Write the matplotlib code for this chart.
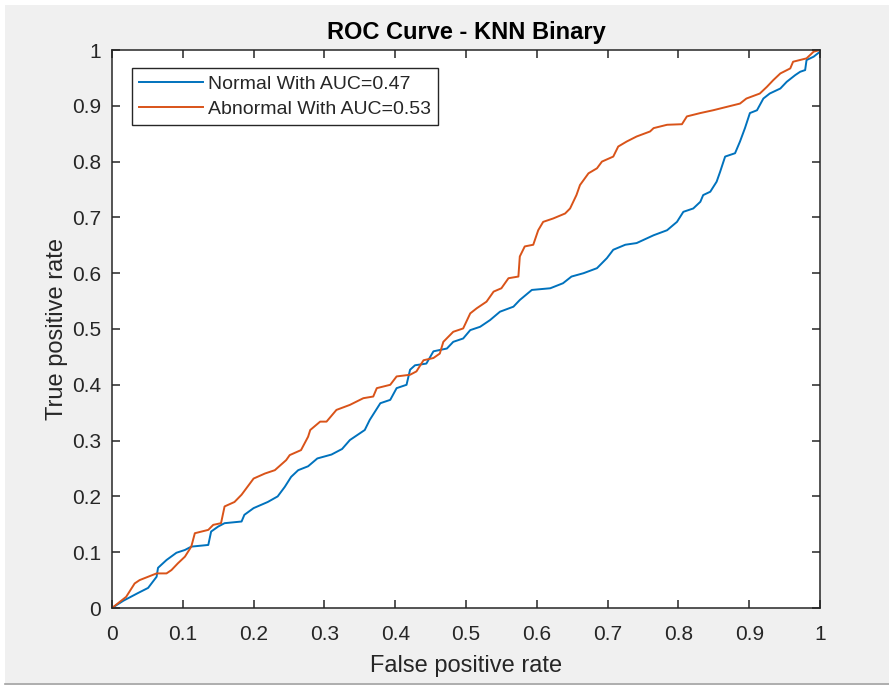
import matplotlib
matplotlib.use("Agg")
import matplotlib.pyplot as plt
from matplotlib.patches import Rectangle
from matplotlib.lines import Line2D

# ROC points (false positive rate, true positive rate) for each class
fpr_normal = [0, .016, .037, .051, .063, .065, .077, .091, .103, .112, .136, .14, .15, .159,
              .183, .187, .2, .22, .234, .244, .253, .263, .277, .29, .31, .325, .336, .357,
              .364, .379, .393, .402, .416, .421, .428, .444, .454, .473, .482, .496, .506,
              .52, .534, .548, .567, .576, .593, .619, .637, .649, .666, .685, .699, .708,
              .725, .741, .765, .784, .798, .807, .821, .831, .835, .845, .854, .859, .866,
              .88, .887, .894, .901, .911, .92, .929, .944, .953, .965, .972, .979, .981,
              .991, 1, 1]
tpr_normal = [0, .013, .027, .036, .056, .072, .086, .099, .104, .11, .113, .137, .146, .152,
              .155, .167, .179, .19, .2, .217, .235, .247, .254, .268, .275, .285, .301, .319,
              .337, .367, .373, .394, .4, .427, .435, .438, .46, .465, .477, .483, .498,
              .504, .516, .531, .54, .552, .57, .573, .582, .594, .6, .609, .627, .642,
              .651, .654, .668, .677, .692, .71, .716, .728, .74, .746, .764, .782, .809,
              .815, .836, .86, .887, .892, .913, .922, .931, .943, .955, .961, .964, .982,
              .988, .997, 1]

fpr_abnormal = [0, .02, .032, .039, .051, .063, .077, .084, .093, .103, .112, .117, .136, .143,
                .154, .159, .173, .183, .2, .216, .23, .246, .251, .267, .277, .28, .294, .303,
                .317, .336, .355, .369, .374, .393, .402, .421, .43, .44, .454, .463, .468,
                .482, .496, .506, .515, .529, .539, .55, .56, .574, .576, .583, .595, .602,
                .609, .623, .64, .647, .656, .661, .673, .685, .692, .708, .715, .727, .741,
                .76, .765, .784, .805, .812, .831, .849, .868, .887, .896, .915, .925, .934,
                .944, .958, .962, .981, .991, 1]
tpr_abnormal = [0, .02, .044, .05, .056, .062, .062, .068, .08, .092, .11, .134, .14, .149,
                .152, .182, .19, .203, .232, .241, .247, .265, .274, .283, .307, .319, .334, .334,
                .355, .364, .376, .379, .394, .4, .415, .418, .424, .444, .448, .456, .477,
                .495, .501, .528, .537, .549, .567, .573, .591, .594, .63, .648, .651, .677,
                .692, .698, .707, .716, .74, .758, .779, .788, .8, .809, .827, .836, .845,
                .854, .86, .866, .867, .881, .887, .892, .898, .904, .913, .922, .934, .946,
                .958, .967, .979, .985, .997, 1]

auc_normal = 0.47
auc_abnormal = 0.53
ticks = [0, 0.1, 0.2, 0.3, 0.4, 0.5, 0.6, 0.7, 0.8, 0.9, 1]
tick_labels = ["0", "0.1", "0.2", "0.3", "0.4", "0.5", "0.6", "0.7", "0.8", "0.9", "1"]

plt.rcParams["font.family"] = ["Liberation Sans", "DejaVu Sans"]
dark = "#262626"

fig = plt.figure(figsize=(8.89, 6.86), dpi=100)
fig.patch.set_facecolor("white")
# grey window area with a thin edge at the bottom
fig.patches.append(Rectangle((5 / 889, 3 / 686), 1, 678 / 686, transform=fig.transFigure,
                             facecolor="#f0f0f0", edgecolor="none", zorder=-10))
fig.lines.append(Line2D([5 / 889, 1], [2.5 / 686, 2.5 / 686], transform=fig.transFigure,
                        color="#a0a0a0", lw=1.2))

ax = fig.add_axes([112 / 889, 78 / 686, 708 / 889, 558 / 686])
ax.plot(fpr_normal, tpr_normal, color="#0072BD", lw=1.4,
        label=f"Normal With AUC={auc_normal:.2f}")
ax.plot(fpr_abnormal, tpr_abnormal, color="#D95319", lw=1.4,
        label=f"Abnormal With AUC={auc_abnormal:.2f}")

ax.set_xlim(0, 1)
ax.set_ylim(0, 1)
ax.set_xticks(ticks)
ax.set_xticklabels(tick_labels)
ax.set_yticks(ticks)
ax.set_yticklabels(tick_labels)
ax.tick_params(direction="in", length=6, width=1.1, colors=dark, labelsize=15,
               top=True, right=True)
ax.tick_params(axis="x", pad=12.5)
ax.tick_params(axis="y", pad=8)
for s in ax.spines.values():
    s.set_color(dark)
    s.set_linewidth(1.1)

ax.set_title("ROC Curve - KNN Binary", fontsize=17, fontweight="bold", color="black", pad=8)
ax.set_xlabel("False positive rate", fontsize=17, color=dark, labelpad=7.5)
ax.set_ylabel("True positive rate", fontsize=17, color=dark, labelpad=3)

leg = ax.legend(loc="upper left", bbox_to_anchor=(0.0278, 0.9677), borderaxespad=0,
                fontsize=14, handlelength=3.3, handletextpad=0.25, labelspacing=0.36,
                borderpad=0.38, fancybox=False, framealpha=1, edgecolor=dark)
leg.get_frame().set_linewidth(1.0)
for t in leg.get_texts():
    t.set_color(dark)

fig.savefig("out.png", dpi=100, facecolor=fig.get_facecolor())
